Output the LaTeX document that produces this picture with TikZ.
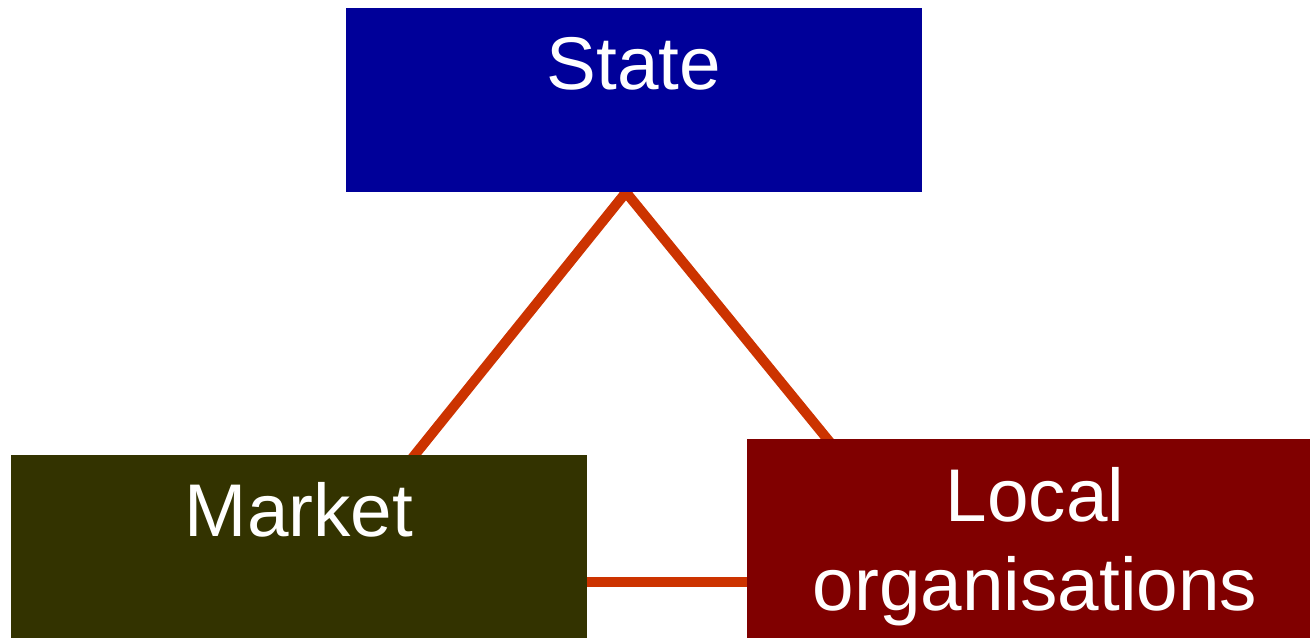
\documentclass[tikz,border=0pt]{standalone}
\usepackage{fontspec}
\setmainfont{Liberation Sans}
\usetikzlibrary{backgrounds}

\definecolor{statecol}{HTML}{000099}
\definecolor{marketcol}{HTML}{333300}
\definecolor{localcol}{HTML}{800000}
\definecolor{linkcol}{HTML}{CC3300}

\tikzset{
        box/.style={rectangle, inner sep=0pt, minimum width=11.52cm},
        boxtext/.style={text=white, inner sep=0pt, font=\fontsize{42.5}{51}\selectfont},
        link/.style={draw=linkcol, line width=0.2cm, shorten <=-0.3cm, shorten >=-0.3cm}
}

\begin{document}
\begin{tikzpicture}
        \useasboundingbox (0,0) rectangle (26.2,12.76);
        \clip (0,0) rectangle (26.2,12.76);

        %Drawing State
        \node[box, fill=statecol, minimum height=3.68cm] (state) at (12.68,10.76) {};
        \node[boxtext, anchor=base] (statetext) at ([yshift=-1.63cm]state.north) {State};

        %Drawing Market
        \node[box, fill=marketcol, minimum height=4cm] (market) at (5.98,1.66) {};
        \node[boxtext, anchor=base] (markettext) at ([yshift=-1.64cm]market.north) {Market};

        %Drawing Local organisations
        \node[box, fill=localcol, minimum height=4.2cm] (local) at (20.7,1.88) {};
        \node[boxtext, anchor=north, align=center] (localtext) at ([yshift=-0.56cm]local.north) {Local\\organisations};

        %Lines between the three boxes
        \begin{scope}[on background layer]
        \draw[link] ([xshift=-0.16cm]state.south) -- ([xshift=2.32cm]market.north);
        \draw[link] ([xshift=-0.16cm]state.south) -- ([xshift=-4.16cm]local.north);
        \draw[link] ([yshift=-0.54cm]market.east) -- ([yshift=-0.54cm]market.east -| local.west);
        \end{scope}

\end{tikzpicture}
\end{document}
